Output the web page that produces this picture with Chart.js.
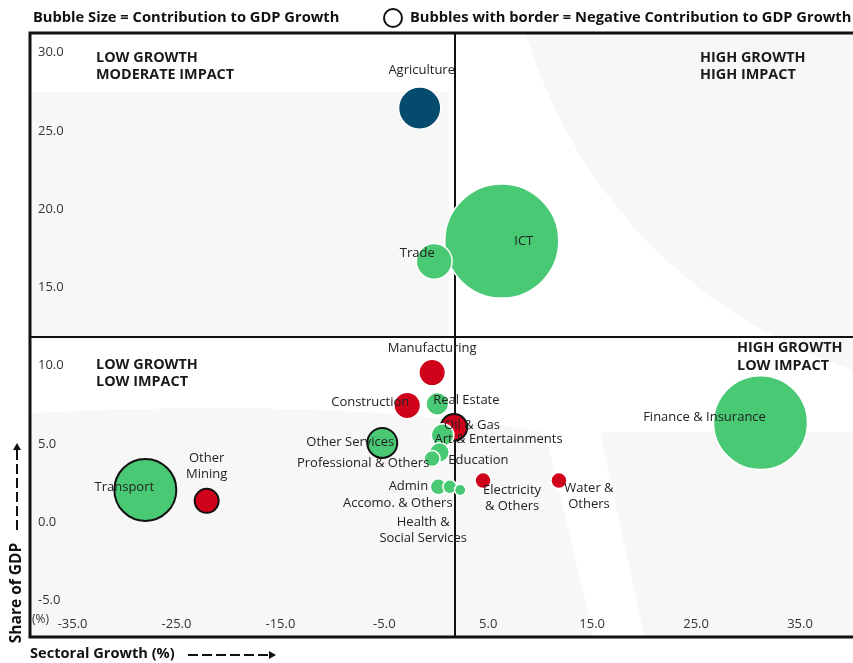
<!DOCTYPE html>
<html>
<head>
<meta charset="utf-8">
<script src="https://cdn.jsdelivr.net/npm/chart.js@4.4.1/dist/chart.umd.min.js"></script>
<style>
  html, body { margin: 0; padding: 0; background: #fff; }
  #wrap { width: 853px; height: 663px; }
</style>
</head>
<body>
<div id="wrap"><canvas id="grafico" width="853" height="663"></canvas></div>
<script>
// datos del grafico
var sectores = ['Agriculture', 'ICT', 'Trade', 'Manufacturing', 'Construction', 'Real Estate',
  'Oil & Gas', 'Art & Entertainments', 'Other Services', 'Education', 'Professional & Others',
  'Admin', 'Accomo. & Others', 'Health & Social Services', 'Electricity & Others',
  'Water & Others', 'Transport', 'Other Mining', 'Finance & Insurance'];
var crecimiento = [-1.6, 6.3, -0.2, -0.4, -2.8, 0.1, 1.7, 0.6, -5.2, 0.3, -0.4, 0.2, 1.3, 2.3, 4.5, 11.8, -28.0, -22.1, 31.2];
var participacion = [26.4, 17.9, 16.6, 9.5, 7.4, 7.5, 6.0, 5.5, 5.0, 4.4, 4.0, 2.2, 2.2, 2.0, 2.6, 2.6, 2.0, 1.3, 6.3];
var contribucion = [0.28, 2.03, 0.20, 0.11, 0.11, 0.08, -0.11, 0.08, -0.14, 0.06, 0.04, 0.04, 0.03, 0.02, 0.04, 0.04, -0.60, -0.09, 1.38];
var xTicks = [-35, -25, -15, -5, 5, 15, 25, 35];
var yTicks = [-5, 0, 5, 10, 15, 20, 25, 30];
var promedioCrecimiento = 1.8;
var promedioParticipacion = 11.8;

// estilos
var VERDE = '#49c974', ROJO = '#d0021b', AZUL = '#054b6d';
var rojos = ['Manufacturing', 'Construction', 'Oil & Gas', 'Electricity & Others', 'Water & Others', 'Other Mining'];
var azules = ['Agriculture'];
var FUENTE = '"Open Sans", "Noto Sans", sans-serif';

// posicion de las etiquetas respecto a la burbuja (dx, dy por linea)
var etiquetas = {
  'Agriculture': { dx: 2, dy: -38 },
  'ICT': { dx: 22, dy: 0 },
  'Trade': { dx: -17, dy: -8 },
  'Manufacturing': { dx: 0, dy: -24 },
  'Construction': { dx: -37, dy: -3 },
  'Real Estate': { dx: 29, dy: -4 },
  'Oil & Gas': { dx: 18, dy: -2 },
  'Art & Entertainments': { dx: 56, dy: 4 },
  'Other Services': { dx: -32, dy: -1 },
  'Education': { dx: 39, dy: 8 },
  'Professional & Others': { dx: -69, dy: 5 },
  'Admin': { dx: -30, dy: 0 },
  'Accomo. & Others': { dx: -52, dy: 17 },
  'Health & Social Services': { dx: -37, dy: 32, lineas: ['Health &', 'Social Services'] },
  'Electricity & Others': { dx: 29, dy: 10, lineas: ['Electricity', '& Others'] },
  'Water & Others': { dx: 30, dy: 8, lineas: ['Water &', 'Others'] },
  'Transport': { dx: -21, dy: -3 },
  'Other Mining': { dx: 0, dy: -43, lineas: ['Other', 'Mining'] },
  'Finance & Insurance': { dx: -56, dy: -5 }
};

var puntos = [];
for (var i in sectores) {
  puntos.push({ x: crecimiento[i], y: participacion[i], r: 40 * Math.sqrt(Math.abs(contribucion[i])) });
}

function colorSector(nombre) {
  if (azules.indexOf(nombre) >= 0) return AZUL;
  if (rojos.indexOf(nombre) >= 0) return ROJO;
  return VERDE;
}

function flechaDiscontinua(ctx, x1, y1, x2, y2) {
  var ang = Math.atan2(y2 - y1, x2 - x1);
  ctx.save();
  ctx.strokeStyle = '#111';
  ctx.fillStyle = '#111';
  ctx.lineWidth = 2;
  ctx.setLineDash([10, 4]);
  ctx.beginPath();
  ctx.moveTo(x1, y1);
  ctx.lineTo(x2 - 5 * Math.cos(ang), y2 - 5 * Math.sin(ang));
  ctx.stroke();
  ctx.setLineDash([]);
  ctx.translate(x2, y2);
  ctx.rotate(ang);
  ctx.beginPath();
  ctx.moveTo(0, 0);
  ctx.lineTo(-7, -4);
  ctx.lineTo(-7, 4);
  ctx.closePath();
  ctx.fill();
  ctx.restore();
}

// fondo decorativo, marco, lineas de cuadrante
var fondo = {
  id: 'fondo',
  beforeDatasetsDraw: function(chart) {
    var ctx = chart.ctx, a = chart.chartArea;
    var xs = chart.scales.x, ys = chart.scales.y;
    ctx.save();
    ctx.fillStyle = '#f7f7f7';
    ctx.fillRect(a.left, 92, xs.getPixelForValue(promedioCrecimiento) - a.left - 6, 245);
    ctx.beginPath();
    ctx.arc(1010, -110, 505, 0, Math.PI * 2);
    ctx.fill();
    ctx.beginPath();
    ctx.moveTo(0, 663);
    ctx.lineTo(0, 415);
    ctx.quadraticCurveTo(330, 395, 545, 432);
    ctx.lineTo(600, 663);
    ctx.closePath();
    ctx.fill();
    ctx.beginPath();
    ctx.moveTo(600, 432);
    ctx.lineTo(853, 432);
    ctx.lineTo(853, 663);
    ctx.lineTo(650, 663);
    ctx.closePath();
    ctx.fill();
    ctx.fillStyle = '#fff';
    ctx.fillRect(0, 0, 853, 33);
    ctx.fillRect(0, 638, 853, 25);
    ctx.fillRect(0, 0, 30, 663);

    // lineas de cuadrante
    ctx.strokeStyle = '#111';
    ctx.lineWidth = 2;
    var vx = Math.round(xs.getPixelForValue(promedioCrecimiento));
    var hy = Math.round(ys.getPixelForValue(promedioParticipacion));
    ctx.beginPath();
    ctx.moveTo(vx, a.top);
    ctx.lineTo(vx, a.bottom);
    ctx.moveTo(a.left, hy);
    ctx.lineTo(a.right, hy);
    ctx.stroke();

    // marco
    ctx.lineWidth = 3;
    ctx.beginPath();
    ctx.moveTo(a.right, a.top);
    ctx.lineTo(a.left, a.top);
    ctx.lineTo(a.left, a.bottom);
    ctx.lineTo(a.right, a.bottom);
    ctx.stroke();

    // etiquetas de ejes dentro del area
    ctx.fillStyle = '#333';
    ctx.font = '13px ' + FUENTE;
    ctx.textBaseline = 'middle';
    ctx.textAlign = 'left';
    yTicks.forEach(function(v) {
      ctx.fillText(v.toFixed(1), 38, ys.getPixelForValue(v) + 1);
    });
    ctx.textAlign = 'center';
    xTicks.forEach(function(v) {
      ctx.fillText(v.toFixed(1), xs.getPixelForValue(v), 624);
    });
    ctx.font = '12px ' + FUENTE;
    ctx.textAlign = 'left';
    ctx.fillText('(%)', 32, 620);

    // cuadrantes
    ctx.fillStyle = '#1a1a1a';
    ctx.font = 'bold 14.4px ' + FUENTE;
    ctx.fillText('LOW GROWTH', 96, 58);
    ctx.fillText('MODERATE IMPACT', 96, 75);
    ctx.fillText('HIGH GROWTH', 700, 58);
    ctx.fillText('HIGH IMPACT', 700, 75);
    ctx.fillText('LOW GROWTH', 96, 365);
    ctx.fillText('LOW IMPACT', 96, 382);
    ctx.fillText('HIGH GROWTH', 737, 348);
    ctx.fillText('LOW IMPACT', 737, 366);

    // titulos
    ctx.fillStyle = '#111';
    ctx.font = 'bold 14.7px ' + FUENTE;
    ctx.fillText('Bubble Size = Contribution to GDP Growth', 33, 18);
    ctx.fillText('Bubbles with border = Negative Contribution to GDP Growth', 410, 18);
    ctx.lineWidth = 2;
    ctx.beginPath();
    ctx.arc(393, 18, 9, 0, Math.PI * 2);
    ctx.stroke();

    ctx.font = 'bold 14.6px ' + FUENTE;
    ctx.fillText('Sectoral Growth (%)', 30, 654);
    flechaDiscontinua(ctx, 188, 655, 276, 655);
    ctx.save();
    ctx.translate(17, 593);
    ctx.rotate(-Math.PI / 2);
    ctx.textAlign = 'center';
    ctx.font = 'bold 15.5px ' + FUENTE;
    ctx.fillText('Share of GDP', 0, 0);
    ctx.restore();
    flechaDiscontinua(ctx, 17, 530, 17, 443);
    ctx.restore();
  },
  afterDatasetsDraw: function(chart) {
    var ctx = chart.ctx;
    var meta = chart.getDatasetMeta(0);
    ctx.save();
    ctx.fillStyle = '#222';
    ctx.font = '13px ' + FUENTE;
    ctx.textAlign = 'center';
    ctx.textBaseline = 'middle';
    meta.data.forEach(function(el, i) {
      var et = etiquetas[sectores[i]];
      var lineas = et.lineas || [sectores[i]];
      lineas.forEach(function(t, j) {
        ctx.fillText(t, el.x + et.dx, el.y + et.dy + j * 16);
      });
    });
    ctx.restore();
  }
};

var grafico = new Chart(document.getElementById('grafico'), {
  type: 'bubble',
  data: {
    labels: sectores,
    datasets: [{
      label: 'Sectors',
      data: puntos,
      backgroundColor: sectores.map(colorSector),
      borderColor: contribucion.map(function(c) { return c < 0 ? '#111' : '#ffffff'; }),
      borderWidth: contribucion.map(function(c) { return c < 0 ? 2 : 1.5; }),
      hoverBorderWidth: 2
    }]
  },
  options: {
    responsive: false,
    animation: false,
    devicePixelRatio: 1,
    layout: { autoPadding: false, padding: { left: 30, top: 33, right: 0, bottom: 26 } },
    scales: {
      x: { type: 'linear', min: -39.1, max: 40.1, display: false },
      y: { type: 'linear', min: -7.4, max: 31.2, display: false }
    },
    plugins: {
      legend: { display: false },
      tooltip: { enabled: true }
    }
  },
  plugins: [fondo]
});
</script>
</body>
</html>
